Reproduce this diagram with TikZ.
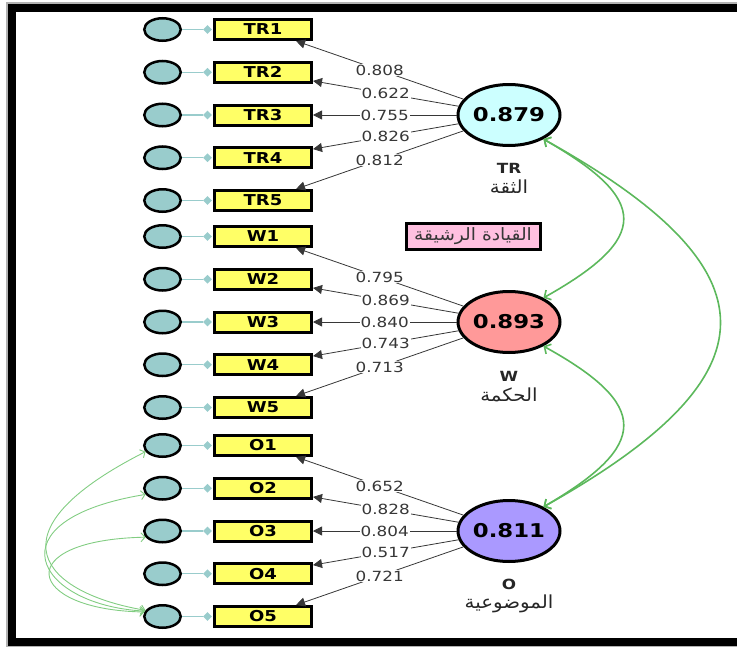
\documentclass[tikz,border=0pt]{standalone}
\usepackage{fontspec}
\setmainfont{DejaVu Sans}[FakeStretch=1.2]
\newfontfamily\arabicfont[Script=Arabic,FakeStretch=1.1]{DejaVu Sans}
\TeXXeTstate=1
\usetikzlibrary{shapes.geometric,arrows.meta}

\definecolor{indfill}{RGB}{255,255,102}
\definecolor{errfill}{RGB}{153,204,204}
\definecolor{trfill}{RGB}{204,255,255}
\definecolor{wfill}{RGB}{255,153,153}
\definecolor{ofill}{RGB}{170,153,255}
\definecolor{covgreen}{RGB}{92,184,92}
\definecolor{errgreen}{RGB}{130,205,130}
\definecolor{titlepink}{RGB}{255,192,224}
\definecolor{loadgray}{RGB}{55,55,55}

\begin{document}
\begin{tikzpicture}[x=1pt,y=-1pt,
  indbox/.style={draw=black,line width=3pt,fill=indfill,minimum width=97pt,
    minimum height=20pt,inner sep=0pt,font=\fontsize{15}{15}\selectfont\bfseries},
  errnode/.style={ellipse,draw=black,line width=2.5pt,fill=errfill,
    minimum width=36.5pt,minimum height=22.5pt,inner sep=0pt},
  errlink/.style={draw=errfill,line width=1.3pt},
  errdot/.style={diamond,fill=errfill,minimum width=9pt,minimum height=9pt,inner sep=0pt},
  latent/.style={ellipse,draw=black,line width=3pt,minimum width=97pt,
    minimum height=61pt,inner sep=0pt,font=\fontsize{19}{19}\selectfont\bfseries},
  loading/.style={draw=loadgray,line width=0.8pt,-{Triangle[length=9pt,width=9pt]}},
  ldlabel/.style={fill=white,inner sep=1pt,text=loadgray,
    font=\fontsize{14}{14}\selectfont,pos=0.5},
  latname/.style={inner sep=0pt,font=\fontsize{14}{14}\selectfont\bfseries,text=black!85},
  latar/.style={inner sep=0pt,font=\fontsize{18}{18}\arabicfont,text=black!85},
  titlebox/.style={draw=black,line width=3pt,fill=titlepink,minimum width=134pt,
    minimum height=26pt,inner sep=0pt,text=loadgray,font=\fontsize{17}{17}\arabicfont},
  cov/.style={draw=covgreen,line width=1.6pt,
    {Straight Barb[length=5pt,width=11pt]}-{Straight Barb[length=5pt,width=11pt]}},
  errcov/.style={draw=errgreen,line width=0.9pt,
    {Straight Barb[length=4pt,width=9pt]}-{Straight Barb[length=4pt,width=9pt]}}
]
\useasboundingbox (0,0) rectangle (737,648);
\clip (0,0) rectangle (737,648);

% outer frame (open on the right) with a soft outer shadow
\draw[line width=8pt,black!30] (760,6) -- (10,6) -- (10,643) -- (760,643);
\draw[line width=8pt,black] (760,7.5) -- (11.5,7.5) -- (11.5,641.5) -- (760,641.5);

% latent constructs
\node[latent,fill=trfill] (TR) at (509,115) {0.879};
\node[latent,fill=wfill]  (W)  at (509,322) {0.893};
\node[latent,fill=ofill]  (O)  at (509,531) {0.811};

\node[latname] (TRname) at (509,168) {TR};
\node[latar]   (TRar)   at (509,187) {\beginR الثقة\endR};
\node[latname] (Wname)  at (509,376) {W};
\node[latar]   (War)    at (509,395) {\beginR الحكمة\endR};
\node[latname] (Oname)  at (509,584) {O};
\node[latar]   (Oar)    at (509,604) {\beginR الموضوعية\endR};

\node[titlebox] (title) at (473,236.5) {\beginR القيادة الرشيقة\endR};

% indicators, error terms and outer loadings
\foreach \ind/\y/\val/\lat in {
  TR1/29.5/0.808/TR, TR2/72.25/0.622/TR, TR3/115/0.755/TR, TR4/157.75/0.826/TR, TR5/200.5/0.812/TR,
  W1/236.5/0.795/W, W2/279.25/0.869/W, W3/322/0.840/W, W4/364.75/0.743/W, W5/407.5/0.713/W,
  O1/445.5/0.652/O, O2/488.25/0.828/O, O3/531/0.804/O, O4/573.75/0.517/O, O5/616.5/0.721/O}{
  \node[indbox] (\ind) at (263,\y) {\ind};
  \node[errnode] (e\ind) at (162.5,\y) {};
  \node[errdot] (d\ind) at (207.5,\y) {};
  \draw[errlink] (e\ind) -- (d\ind);
  \draw[loading] (\lat) -- node[ldlabel] {\val} (\ind);
}

% correlations between constructs
\draw[cov] (TR.-35) .. controls (650,200) and (650,238) .. (W.35);
\draw[cov] (W.-35) .. controls (650,405) and (650,445) .. (O.35);
\draw[cov] (TR.-35) .. controls (779,270) and (779,375) .. (O.35);

% correlated error terms
\draw[errcov] (eO1.200) .. controls (-15,533) and (44,593) .. (eO5.160);
\draw[errcov] (eO2.200) .. controls (-10,520) and (35,605) .. (eO5.163);
\draw[errcov] (eO3.200) .. controls (10,540) and (25,610) .. (eO5.166);
\end{tikzpicture}
\end{document}
